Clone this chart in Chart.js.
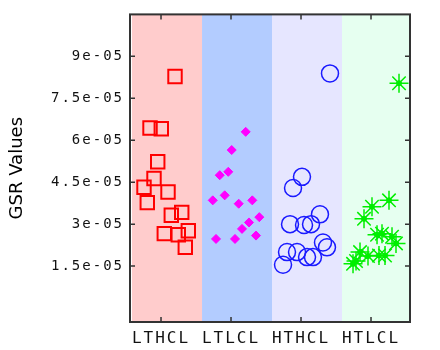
<!DOCTYPE html>
<html>
<head>
<meta charset="utf-8">
<script src="https://cdn.jsdelivr.net/npm/chart.js@4"></script>
<style>
  html, body { margin: 0; padding: 0; background: #fff; }
</style>
</head>
<body>
<canvas id="gsr" width="440" height="350"></canvas>
<script>
// categories and tick values
const CATEGORIES = ['LTHCL', 'LTLCL', 'HTHCL', 'HTLCL'];
const Y_TICKS = [1.5e-5, 3e-5, 4.5e-5, 6e-5, 7.5e-5, 9e-5];

// jittered x positions (category index +/- spread) and GSR values
const lthclX = [1.20, 0.843, 1.004, 0.953, 0.90, 0.757, 1.10, 0.804, 1.296, 1.147, 1.39, 1.047, 1.247, 1.347];
const lthclY = [8.28e-5, 6.44e-5, 6.41e-5, 5.23e-5, 4.63e-5, 4.32e-5, 4.15e-5, 3.77e-5, 3.42e-5, 3.32e-5, 2.76e-5, 2.66e-5, 2.62e-5, 2.17e-5];

const ltlclX = [2.21, 2.01, 1.961, 1.839, 1.91, 1.739, 2.11, 2.304, 2.404, 2.257, 2.157, 2.357, 1.786, 2.057];
const ltlclY = [6.30e-5, 5.65e-5, 4.87e-5, 4.75e-5, 4.03e-5, 3.85e-5, 3.73e-5, 3.85e-5, 3.25e-5, 3.06e-5, 2.83e-5, 2.59e-5, 2.47e-5, 2.47e-5];

const hthclX = [3.414, 3.014, 2.886, 3.271, 2.843, 3.043, 3.143, 2.80, 2.943, 2.743, 3.086, 3.171, 3.314, 3.371];
const hthclY = [8.39e-5, 4.69e-5, 4.29e-5, 3.35e-5, 3.00e-5, 2.97e-5, 3.00e-5, 2.00e-5, 2.00e-5, 1.55e-5, 1.82e-5, 1.82e-5, 2.34e-5, 2.17e-5];

const htlclX = [4.40, 4.257, 4.014, 3.90, 4.086, 4.157, 4.30, 4.357, 3.843, 3.957, 4.114, 4.20, 3.786, 3.743];
const htlclY = [8.04e-5, 3.85e-5, 3.62e-5, 3.19e-5, 2.62e-5, 2.66e-5, 2.55e-5, 2.31e-5, 2.00e-5, 1.86e-5, 1.88e-5, 1.88e-5, 1.68e-5, 1.58e-5];

const BAND_COLORS = ['#ffcccc', '#b3ccff', '#e6e6ff', '#e6fff0'];
const X_SHIFT = 0.057;     // axis range is offset a bit from the categories
const BAND_SHIFT = 0.086;

function pts(xs, ys) {
  return xs.map((x, i) => ({ x: x, y: ys[i] }));
}

function fmtExp(v) {
  const parts = v.toExponential().split('e');
  const e = parseInt(parts[1], 10);
  return parts[0] + 'e' + (e < 0 ? '-' : '+') + String(Math.abs(e)).padStart(2, '0');
}

// background bands, frame and inward ticks
const framePlugin = {
  id: 'frame',
  beforeDatasetsDraw(chart) {
    const { ctx, chartArea: a, scales: { x, y } } = chart;
    ctx.save();
    BAND_COLORS.forEach((c, i) => {
      const l = Math.max(a.left, x.getPixelForValue(i + 0.5 + BAND_SHIFT));
      const r = Math.min(a.right, x.getPixelForValue(i + 1.5 + BAND_SHIFT));
      ctx.fillStyle = c;
      ctx.fillRect(l, a.top, r - l, a.bottom - a.top);
    });
    ctx.strokeStyle = '#333';
    ctx.lineWidth = 2;
    ctx.strokeRect(a.left, a.top, a.right - a.left, a.bottom - a.top);
    ctx.lineWidth = 1.5;
    ctx.beginPath();
    Y_TICKS.forEach(v => {
      const py = y.getPixelForValue(v);
      ctx.moveTo(a.left, py); ctx.lineTo(a.left + 5, py);
      ctx.moveTo(a.right, py); ctx.lineTo(a.right - 5, py);
    });
    CATEGORIES.forEach((c, i) => {
      const px = x.getPixelForValue(i + 1);
      ctx.moveTo(px, a.top); ctx.lineTo(px, a.top + 5);
      ctx.moveTo(px, a.bottom); ctx.lineTo(px, a.bottom - 5);
    });
    ctx.stroke();
    ctx.restore();
  },
  afterDatasetsDraw(chart) {
    chart.ctx.letterSpacing = '2px';
  },
  afterDraw(chart) {
    chart.ctx.letterSpacing = '0px';
  }
};

const tickFont = { family: 'DejaVu Sans Mono', weight: 'normal' };

const config = {
  type: 'scatter',
  data: {
    datasets: [
      {
        label: CATEGORIES[0], data: pts(lthclX, lthclY),
        pointStyle: 'rect', pointRadius: 9.5, pointBorderWidth: 2,
        pointBorderColor: '#ff0000', pointBackgroundColor: 'rgba(0,0,0,0)'
      },
      {
        label: CATEGORIES[1], data: pts(ltlclX, ltlclY),
        pointStyle: 'rectRot', pointRadius: 4.5, pointBorderWidth: 1,
        pointBorderColor: '#ff00ff', pointBackgroundColor: '#ff00ff'
      },
      {
        label: CATEGORIES[2], data: pts(hthclX, hthclY),
        pointStyle: 'circle', pointRadius: 8.5, pointBorderWidth: 1.5,
        pointBorderColor: '#1a1aff', pointBackgroundColor: 'rgba(0,0,0,0)'
      },
      {
        label: CATEGORIES[3], data: pts(htlclX, htlclY),
        pointStyle: 'star', pointRadius: 9.5, pointBorderWidth: 1.5,
        pointBorderColor: '#00ee00', pointBackgroundColor: '#00ee00'
      },
      {
        label: CATEGORIES[3] + ' centre', data: pts(htlclX, htlclY),
        pointStyle: 'circle', pointRadius: 2.5, pointBorderWidth: 1,
        pointBorderColor: '#00ee00', pointBackgroundColor: '#00ee00'
      }
    ]
  },
  options: {
    responsive: false,
    animation: false,
    devicePixelRatio: 1,
    layout: { padding: { top: 5, right: 30, left: 0, bottom: 0 } },
    plugins: { legend: { display: false }, tooltip: { enabled: false } },
    scales: {
      x: {
        type: 'linear',
        min: 0.5 + X_SHIFT,
        max: 4.5 + X_SHIFT,
        grid: { display: false, drawTicks: false },
        border: { display: false },
        afterBuildTicks: s => { s.ticks = CATEGORIES.map((c, i) => ({ value: i + 1 })); },
        ticks: {
          callback: (v, i) => CATEGORIES[i],
          font: Object.assign({ size: 16 }, tickFont),
          color: '#111', padding: 7, maxRotation: 0, autoSkip: false, z: 1
        },
        afterFit: s => { s.height = 28; }
      },
      y: {
        min: -5e-6,
        max: 1.05e-4,
        grid: { display: false, drawTicks: false },
        border: { display: false },
        afterBuildTicks: s => { s.ticks = Y_TICKS.map(v => ({ value: v })); },
        ticks: {
          callback: v => fmtExp(v),
          font: Object.assign({ size: 14 }, tickFont),
          color: '#111', padding: 6, z: 1
        },
        title: {
          display: true, text: 'GSR Values', color: '#000',
          font: { family: 'DejaVu Sans', size: 18 },
          padding: { top: 7, bottom: 0 }
        },
        afterFit: s => { s.width = 130; }
      }
    }
  },
  plugins: [framePlugin]
};

const ctx = document.getElementById('gsr').getContext('2d');
const gsrChart = new Chart(ctx, config);
</script>
</body>
</html>
